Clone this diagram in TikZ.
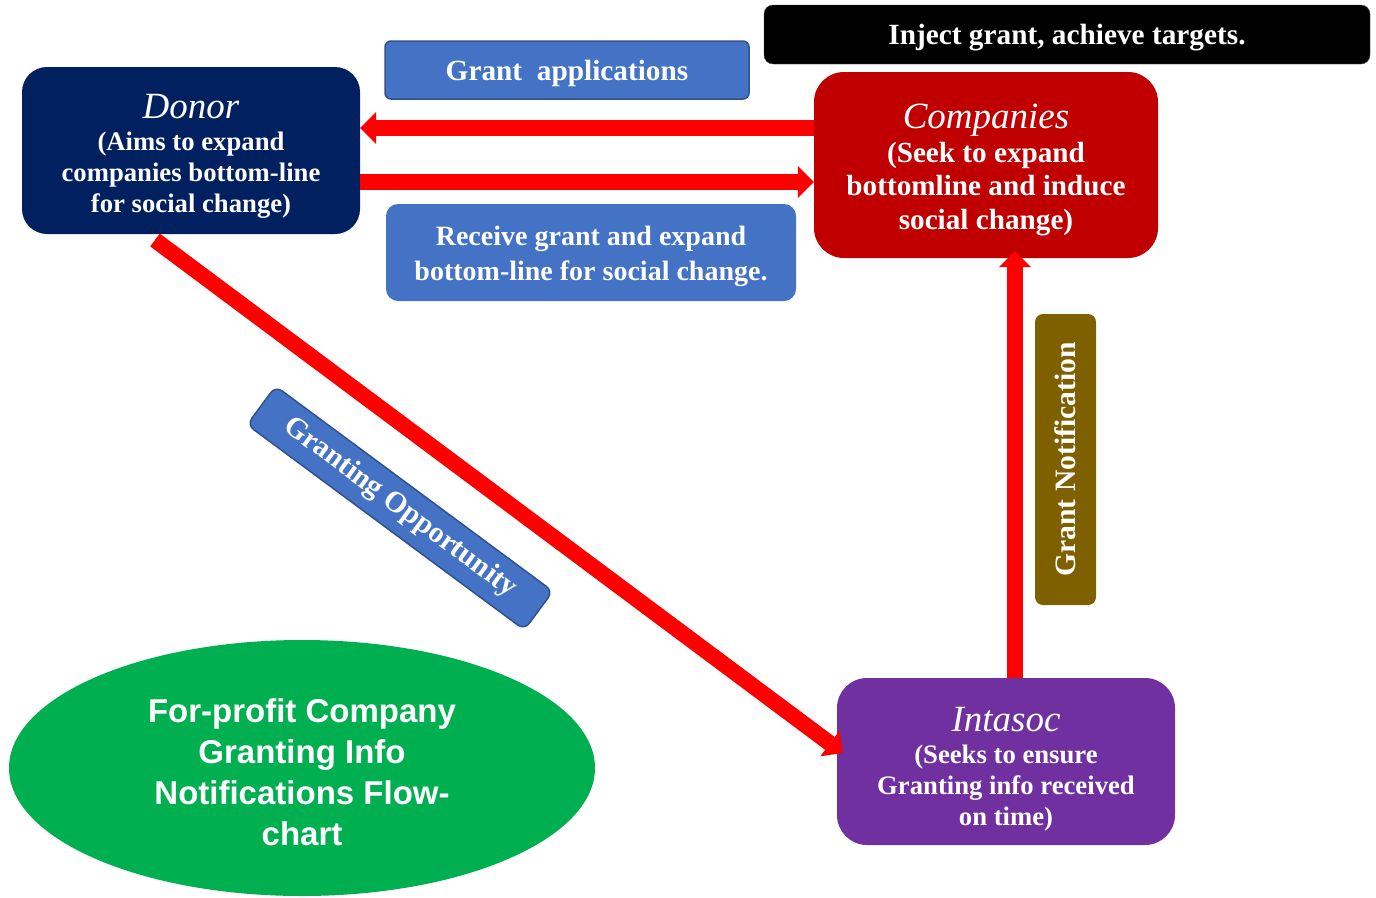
\documentclass[tikz,border=0pt]{standalone}
\usepackage{fontspec}
\setmainfont{Liberation Serif}
\newfontfamily\sansb{Liberation Sans}
\usetikzlibrary{arrows.meta,shapes.geometric,calc}
\definecolor{cblue}{HTML}{4472C4}
\definecolor{cblueb}{HTML}{2F528F}
\definecolor{cnavy}{HTML}{002060}
\definecolor{cred}{HTML}{C00000}
\definecolor{cpurple}{HTML}{7030A0}
\definecolor{colive}{HTML}{7F6000}
\definecolor{cgreen}{HTML}{00B050}
\definecolor{carrow}{HTML}{FF0000}
\newcommand{\ttlline}[2]{{\rule{0pt}{#1}\fontsize{37}{38}\selectfont\itshape\mdseries #2}}
\begin{document}
\begin{tikzpicture}[x=1pt,y=-1pt,
  basebox/.style={rectangle, text=white, align=center, inner sep=0pt},
  mainbox/.style={basebox, rounded corners=28pt, font=\fontsize{26.7}{31}\selectfont\bfseries},
  labelbox/.style={basebox, fill=cblue, draw=cblueb, line width=1.5pt, font=\fontsize{29.3}{35}\selectfont\bfseries},
  bigarrow/.style={draw=carrow, line width=16pt, -{Triangle[length=16pt,width=32pt,line width=0pt]}}
]
\useasboundingbox (0,0) rectangle (1376,897);

% nodes
\node[basebox, fill=black, draw=black!70, rounded corners=9pt, minimum width=606pt, minimum height=59pt, text depth=0pt,
      font=\fontsize{29.3}{33}\selectfont\bfseries] (inject) at (1067,34.5) {Inject grant, achieve targets.};
\node[labelbox, rounded corners=6pt, minimum width=364pt, minimum height=58pt, text depth=0pt] (gapp) at (567,70) {Grant\ \ applications};
\node[mainbox, fill=cnavy, rounded corners=25pt, minimum width=338pt, minimum height=167pt] (donor) at (191,150.5)
  {\ttlline{36pt}{Donor}\\[1pt](Aims to expand\\companies bottom-line\\for social change)};
\node[mainbox, fill=cred, rounded corners=30pt, minimum width=344pt, minimum height=186pt,
      font=\fontsize{29.2}{33.5}\selectfont\bfseries] (comp) at (986,165)
  {\ttlline{34pt}{Companies}\\(Seek to expand\\bottomline and induce\\social change)};
\node[labelbox, draw=none, rounded corners=12pt, minimum width=410pt, minimum height=97pt,
      font=\fontsize{28}{35}\selectfont\bfseries] (recv) at (591,252.5)
  {\rule{0pt}{28pt}Receive grant and expand\\bottom-line for social change.};
\node[basebox, fill=colive, rounded corners=8pt, rotate=90, minimum width=291pt, minimum height=61pt,
      font=\fontsize{29.6}{30}\selectfont\bfseries] (notif) at (1065.5,459.5) {Grant Notification};
\node[mainbox, fill=cpurple, rounded corners=30pt, minimum width=338pt, minimum height=167pt] (intasoc) at (1006,761.5)
  {\ttlline{40pt}{Intasoc}\\[1pt](Seeks to ensure\\Granting info received\\on time)};
\node[labelbox, rounded corners=8pt, rotate=-36.5, minimum width=345pt, minimum height=48pt,
      font=\fontsize{29.5}{30}\selectfont\bfseries] (opp) at (400,508) {Granting Opportunity};
\node[ellipse, fill=cgreen, text=white, inner sep=0pt, minimum width=586pt, minimum height=256pt, align=center,
      font=\sansb\fontsize{33}{41}\selectfont\bfseries] (title) at (302,768)
  {\rule{0pt}{32pt}For-profit Company\\Granting Info\\Notifications Flow-\\chart};

% connectors
\coordinate (dstart) at (155,240);
\draw[bigarrow] (comp.west |- 0,128) -- (donor.east |- 0,128);
\draw[bigarrow] (donor.east |- 0,182) -- (comp.west |- 0,182);
\draw[bigarrow] (dstart) -- ($(intasoc.west)+(6,-8.5)$);
\draw[bigarrow] (intasoc.north -| 1015,0) -- ($(comp.south -| 1015,0)+(0,-7)$);
\end{tikzpicture}
\end{document}
